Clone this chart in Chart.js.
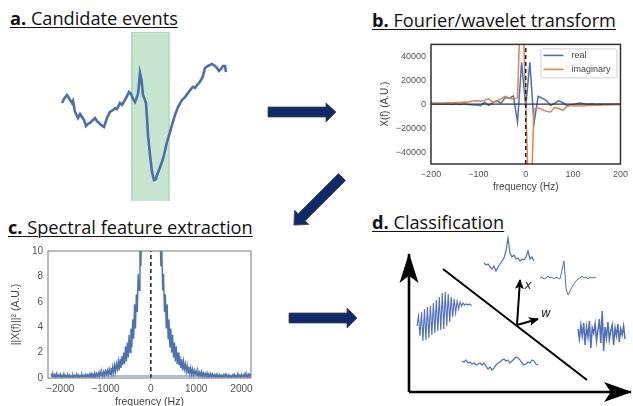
<!DOCTYPE html>
<html>
<head>
<meta charset="utf-8">
<script src="https://cdn.jsdelivr.net/npm/chart.js@4.4.0/dist/chart.umd.min.js"></script>
<style>
  body { margin: 0; width: 633px; height: 406px; overflow: hidden; background: #fff; position: relative; }
  canvas { position: absolute; }
  .title { position: absolute; font-family: 'Open Sans', sans-serif; font-size: 18.2px; line-height: 20px;
           text-decoration: underline; text-decoration-thickness: 1.3px; text-underline-offset: 2px; white-space: nowrap; color: #111; }
  .title b { font-weight: 700; }
  svg { position: absolute; left: 0; top: 0; }
</style>
</head>
<body>
<div class="title" style="left:10px;top:8px"><b>a.</b> Candidate events</div>
<div class="title" style="left:372px;top:10px"><b>b.</b> Fourier/wavelet transform</div>
<div class="title" style="left:8px;top:217px"><b>c.</b> Spectral feature extraction</div>
<div class="title" style="left:372px;top:212px"><b>d.</b> Classification</div>

<canvas id="chartA" width="180" height="169" style="left:55px;top:32px"></canvas>
<canvas id="chartB" width="257" height="172" style="left:376px;top:34px"></canvas>
<canvas id="chartC" width="262" height="176" style="left:0px;top:240px"></canvas>
<canvas id="chartD" width="238" height="171" style="left:395px;top:235px"></canvas>

<!-- block arrows between panels -->
<svg width="633" height="406">
  <g fill="#0f2a6a" stroke="#444" stroke-width="0.8">
    <polygon points="268,107 326,107 326,103 336,112 326,122 326,117 268,117"/>
    <polygon points="289,313 347,313 347,308 357,318 347,328 347,323 289,323"/>
    <polygon transform="translate(342,177) rotate(135)" points="0,-5 57,-5 57,-10 68,0 57,10 57,5 0,5"/>
  </g>
</svg>

<script>
// ---------- a. candidate event (time in ms, amplitude in A.U.) ----------
const aTime = [3.5, 4.5, 6, 7, 8.5, 9, 10, 11.5, 12.5, 13.5, 14.5, 15.5, 16.5, 17.5, 19, 20, 21, 22, 23, 24.5,
  26, 27.5, 29, 30, 31, 32.5, 33.5, 35, 36, 37, 38, 39, 40, 41, 41.5, 42.5, 43.25, 44, 45, 45.5,
  46, 46.5, 47.5, 48.5, 49.5, 50.5, 51, 52, 53.5, 54.5, 56, 57.5, 58.5, 60, 61.5, 63.5, 65, 66.5, 68, 69,
  70, 71, 72, 73, 74, 75, 76.5, 78.5, 80, 81, 82, 83, 84, 85, 85.5];
const aSignal = [58, 60.4, 62.7, 60.9, 58, 59.2, 52.7, 49.1, 51.5, 49.7, 47.9, 44.4, 45.6, 46.2, 47.9, 49.1, 47.3, 46.2, 45, 43.8,
  49.1, 52.7, 53.8, 55, 54.4, 58, 56.8, 59.8, 62.1, 64.5, 63.3, 60.4, 58.6, 61.5, 63.3, 75.7, 71.6, 62.7, 59.8, 58,
  49.1, 39.1, 27.2, 17.2, 12.4, 13, 15.4, 18.3, 23.1, 27.2, 34.9, 40.8, 45, 50.9, 55.6, 59.8, 61.5, 63.9, 66.3, 67.5,
  66.9, 68.6, 69.8, 71.6, 74, 78.7, 79.9, 81.1, 79.9, 78.7, 76.9, 78.1, 79.9, 79.9, 76.3];
const aWindow = [38.4, 57];

// ---------- b. Fourier transform ----------
const bFreq = [-200.1, -191.4, -182.7, -174, -165.3, -156.6, -147.9, -139.2, -130.5, -121.8, -113.1, -104.4,
  -95.7, -87, -78.3, -69.6, -60.9, -52.2, -43.5, -34.8, -26.1, -17.4, -8.7, 0, 8.7, 17.4, 26.1, 34.8, 43.5,
  52.2, 60.9, 69.6, 78.3, 87, 95.7, 104.4, 113.1, 121.8, 130.5, 139.2, 147.9, 156.6, 165.3, 174, 182.7, 191.4, 200.1];
const bReal = [100, -100, 200, 0, 150, -150, 100, -200, 200, -300, -500, -600,
  -1200, 1600, -1000, 1200, 3000, 800, 5600, 5000, 7000, -15000, 35000, -2000, 35000, -16000, 6500, 5000, 3000,
  -1000, 600, 3000, 1200, -1000, -400, 100, 1000, 600, 0, 300, -100, 200, 0, 150, -100, 100, 0];
const bImag = [1000, 900, 1100, 1000, 1300, 1200, 1500, 1400, 1800, 1600, 2600, 2800,
  2400, 3200, 4600, 1600, 2800, 4500, 6600, 5200, 4000, 5500, 110000, 0, -110000, -4000, -3000, -4500, -6000,
  -6500, -2600, -3800, -5000, -2000, -1000, -1600, -1000, -1400, -900, -1100, -700, -900, -500, -600, -300, -400, -200];
const bSeriesNames = ['real', 'imaginary'];
const bXTicks = [-200, -100, 0, 100, 200];
const bYTicks = [-40000, -20000, 0, 20000, 40000];

// ---------- c. power spectrum, positive half (f = 0, 20, ... 2200 Hz) ----------
const cFreqStep = 20;
const cPower = [80, 75, 70, 62, 55, 45, 35, 24, 16, 11,
  12.5, 8.8, 10.5, 6.9, 8.2, 5.2, 6.6, 3.9, 5.8, 3.1,
  4.6, 2.4, 3.9, 2.0, 3.4, 1.6, 2.8, 1.3, 2.5, 1.1,
  2.0, 1.0, 1.7, 0.8, 1.5, 0.6, 1.3, 0.7, 1.1, 0.5,
  1.0, 0.4, 0.9, 0.35, 0.8, 0.3, 0.7, 0.25, 0.6, 0.3,
  0.55, 0.2, 0.5, 0.15, 0.45, 0.2, 0.5, 0.1, 0.4, 0.15,
  0.35, 0.1, 0.4, 0.05, 0.3, 0.1, 0.35, 0.08, 0.3, 0.12,
  0.25, 0.05, 0.3, 0.1, 0.22, 0.06, 0.28, 0.1, 0.2, 0.05,
  0.25, 0.08, 0.3, 0.1, 0.2, 0.05, 0.26, 0.1, 0.18, 0.04,
  0.24, 0.1, 0.3, 0.06, 0.2, 0.08, 0.35, 0.1, 0.22, 0.05,
  0.3, 0.12, 0.25, 0.06, 0.35, 0.1, 0.28, 0.08, 0.3, 0.12, 0.35];
const cFloor = 0.15;
const cXTicks = [-2000, -1000, 0, 1000, 2000];
const cYTicks = [0, 2, 4, 6, 8, 10];

// ---------- d. classification sketch (schematic units) ----------
const dAxisX = [[14, 14], [236, 14]];
const dAxisY = [[14, 14], [14, 152]];
const dBoundary = [[48, 137], [192, 26]];
const dVecX = [[122, 81], [125, 126]];
const dVecW = [[122, 81], [143, 87]];
const dNotes = ['x', 'w'];
const dNoteAt = [[133, 120], [151, 92]];
const dWaveBurst = [0, 10, -10, 14, -15, 17, -14, 19, -12, 20, -9, 23, -7, 26, -5, 29, -4, 33, -3, 34,
  0, 32, 4, 29, 9, 27, 13, 25, 17, 24, 20, 23, 21, 22, 21, 22, 21, 21];
const dWaveFlat = [1, 0, 2, -1, 0, -2, -1, -3, -2, -1, -3, -1, -4, -7, -5, -8, -6, -3, -1, 0, 2, 3, 1, 2, -1, 1, 3, 5, 4, 2,
  -1, -3, -2, 0, -1, 2, 1, -2, -3];
const dWaveSpike = [0, -2, -1, -4, -6, -3, -8, -4, -1, 2, 5, 12, 25, 10, 6, 8, 4, 5, 2, 4, 3, 6, 12, 4, 6, 2];
const dWaveBiphasic = [0, 1, -1, 0, 2, 0, 1, -1, 1, 0, -1, 8, 17, -10, -17, -13, -9, -6, -3, -1, 0, 2, 0, 1, -1, 1, 0, 1, 0];
const dWaveNoise = [4, -6, 8, -3, 10, -12, 6, -4, 12, -15, 5, 0, 9, -8, 3, 14, -10, 22, -18, 6, -5, 11, -7, 2, 8, -12, 5,
  -3, 9, -9, 4, -2, 7, -6];

Chart.defaults.font.family = "'Liberation Sans', Arial, sans-serif";
Chart.defaults.animation = false;
Chart.defaults.plugins.legend.display = false;
Chart.defaults.plugins.tooltip.enabled = false;
Chart.defaults.elements.point.radius = 0;
Chart.defaults.elements.line.tension = 0;

const pts = (xs, ys) => xs.map((x, i) => ({ x: x, y: ys[i] }));
const pairs = arr => arr.map(p => ({ x: p[0], y: p[1] }));
const minus = v => String(v).replace('-', '\u2212');

// box around the plotting area
const framePlugin = {
  id: 'frame',
  afterDatasetsDraw(chart, args, opts) {
    if (!opts || !opts.color) return;
    const { ctx, chartArea: a } = chart;
    ctx.save();
    ctx.strokeStyle = opts.color;
    ctx.lineWidth = opts.width || 1;
    ctx.strokeRect(a.left, a.top, a.right - a.left, a.bottom - a.top);
    ctx.restore();
  }
};
Chart.register(framePlugin);

// ---------- a ----------
new Chart(document.getElementById('chartA'), {
  type: 'line',
  data: {
    datasets: [
      { data: pts(aTime, aSignal), borderColor: '#4a6fb0', borderWidth: 2.6, order: 0 },
      { data: [{ x: aWindow[0], y: 0 }, { x: aWindow[0], y: 100 }, { x: aWindow[1], y: 100 }, { x: aWindow[1], y: 0 }],
        borderColor: '#acd8b8', borderWidth: 1.5, backgroundColor: '#c8e5d0', fill: 'start', order: 1 }
    ]
  },
  options: {
    responsive: false,
    layout: { padding: 0 },
    scales: {
      x: { type: 'linear', min: 0, max: 90, display: false },
      y: { min: 0, max: 100, display: false }
    }
  }
});

// ---------- b ----------
const bLegendPlugin = {
  id: 'bLegend',
  afterDatasetsDraw(chart) {
    const { ctx, chartArea: a } = chart;
    const w = 76, h = 29, x0 = a.right - 4 - w, y0 = a.top + 4;
    ctx.save();
    ctx.fillStyle = 'rgba(255,255,255,0.85)';
    ctx.strokeStyle = '#d0d0d0';
    ctx.lineWidth = 1;
    ctx.beginPath();
    ctx.roundRect(x0 + 0.5, y0 + 0.5, w, h, 2);
    ctx.fill();
    ctx.stroke();
    bSeriesNames.forEach((name, i) => {
      const d = chart.data.datasets.find(s => s.label === name);
      const y = y0 + 7 + i * 14;
      ctx.strokeStyle = d.borderColor;
      ctx.lineWidth = 1.6;
      ctx.beginPath();
      ctx.moveTo(x0 + 3, y);
      ctx.lineTo(x0 + 23, y);
      ctx.stroke();
      ctx.fillStyle = '#444';
      ctx.font = "9px 'Liberation Sans', Arial, sans-serif";
      ctx.textBaseline = 'middle';
      ctx.fillText(name, x0 + 31, y);
    });
    ctx.restore();
  }
};

new Chart(document.getElementById('chartB'), {
  type: 'line',
  data: {
    datasets: [
      { data: [{ x: 0, y: -50000 }, { x: 0, y: 50000 }], borderColor: '#222', borderWidth: 1.5, borderDash: [4, 3], order: 0 },
      { data: [{ x: -200, y: 0 }, { x: 200, y: 0 }], borderColor: '#333', borderWidth: 1.2, order: 1 },
      { label: bSeriesNames[1], data: pts(bFreq, bImag), borderColor: '#dd8452', borderWidth: 1.5, order: 2 },
      { label: bSeriesNames[0], data: pts(bFreq, bReal), borderColor: '#4c72b0', borderWidth: 1.5, order: 3 }
    ]
  },
  options: {
    responsive: false,
    layout: { padding: { top: 5, right: 9, left: 0, bottom: 0 } },
    scales: {
      x: {
        type: 'linear', min: -200, max: 200,
        afterBuildTicks: ax => { ax.ticks = bXTicks.map(v => ({ value: v })); },
        afterFit: ax => { ax.height = 42; },
        grid: { display: false, drawTicks: false }, border: { display: false },
        ticks: { font: { size: 9 }, color: '#555', padding: 5, maxRotation: 0, callback: minus },
        title: { display: true, text: 'frequency (Hz)', font: { size: 10 }, color: '#444', padding: { top: 0, bottom: 13 } }
      },
      y: {
        min: -50000, max: 50000,
        afterBuildTicks: ax => { ax.ticks = bYTicks.map(v => ({ value: v })); },
        afterFit: ax => { ax.width = 55; },
        grid: { display: false, drawTicks: false }, border: { display: false },
        ticks: { font: { size: 9 }, color: '#555', padding: 5, callback: minus },
        title: { display: true, text: 'X(f) (A.U.)', font: { size: 10 }, color: '#444', padding: { top: 3, bottom: 0 } }
      }
    },
    plugins: { frame: { color: '#333', width: 1.5 } }
  },
  plugins: [bLegendPlugin]
});

// ---------- c ----------
const cSpectrum = [];
for (let i = cPower.length - 1; i > 0; i--) cSpectrum.push({ x: -i * cFreqStep, y: cPower[i] });
cPower.forEach((v, i) => cSpectrum.push({ x: i * cFreqStep, y: v }));
const cEdge = (cPower.length - 1) * cFreqStep;

new Chart(document.getElementById('chartC'), {
  type: 'line',
  data: {
    datasets: [
      { data: [{ x: 0, y: 0 }, { x: 0, y: 10 }], borderColor: '#222', borderWidth: 1.5, borderDash: [4, 3], order: 0 },
      { data: cSpectrum, borderColor: '#4c72b0', borderWidth: 1.4, order: 1 },
      { data: [{ x: -cEdge, y: cFloor }, { x: cEdge, y: cFloor }], borderColor: '#8fa9d6', borderWidth: 1.5, order: 2 }
    ]
  },
  options: {
    responsive: false,
    layout: { padding: { top: 5, right: 11, left: 0, bottom: 0 } },
    scales: {
      x: {
        type: 'linear', min: -2270, max: 2210,
        afterBuildTicks: ax => { ax.ticks = cXTicks.map(v => ({ value: v })); },
        afterFit: ax => { ax.height = 38; },
        grid: { display: false, drawTicks: false }, border: { display: false },
        ticks: { font: { size: 10 }, color: '#555', padding: 5, maxRotation: 0, callback: minus },
        title: { display: true, text: 'frequency (Hz)', font: { size: 10.5 }, color: '#444', padding: { top: 0, bottom: 8 } }
      },
      y: {
        min: 0, max: 10,
        afterBuildTicks: ax => { ax.ticks = cYTicks.map(v => ({ value: v })); },
        afterFit: ax => { ax.width = 48; },
        grid: { display: false, drawTicks: false }, border: { display: false },
        ticks: { font: { size: 10 }, color: '#555', padding: 5 },
        title: { display: true, text: '||X(f)||\u00b2 (A.U.)', font: { size: 10.5 }, color: '#444', padding: { top: 10, bottom: 0 } }
      }
    },
    plugins: { frame: { color: '#777', width: 1 } }
  }
});

// ---------- d ----------
const arrowTipPlugin = {
  id: 'arrowTips',
  afterDatasetsDraw(chart) {
    const ctx = chart.ctx;
    chart.data.datasets.forEach((ds, i) => {
      if (!ds.tip) return;
      const el = chart.getDatasetMeta(i).data;
      const p = el[el.length - 1], q = el[el.length - 2];
      const len = Math.hypot(p.x - q.x, p.y - q.y);
      const ux = (p.x - q.x) / len, uy = (p.y - q.y) / len;
      const L = ds.tip[0], W = ds.tip[1];
      ctx.save();
      ctx.fillStyle = ds.borderColor;
      ctx.beginPath();
      ctx.moveTo(p.x + ux, p.y + uy);
      ctx.lineTo(p.x - L * ux + W * uy, p.y - L * uy - W * ux);
      ctx.lineTo(p.x - 0.75 * L * ux, p.y - 0.75 * L * uy);
      ctx.lineTo(p.x - L * ux - W * uy, p.y - L * uy + W * ux);
      ctx.closePath();
      ctx.fill();
      ctx.restore();
    });
    const sx = chart.scales.x, sy = chart.scales.y;
    ctx.save();
    ctx.fillStyle = '#222';
    ctx.font = "italic 12px 'DejaVu Sans', sans-serif";
    ctx.textAlign = 'center';
    ctx.textBaseline = 'middle';
    dNotes.forEach((t, i) => ctx.fillText(t, sx.getPixelForValue(dNoteAt[i][0]), sy.getPixelForValue(dNoteAt[i][1])));
    ctx.restore();
  }
};

// where each waveform sits in the sketch: [values, x start, x end, baseline, line width]
const waveSlots = [
  [dWaveBurst, 22, 77, 80, 1.1],
  [dWaveFlat, 67, 143, 44, 1.2],
  [dWaveSpike, 89, 139, 143, 1.2],
  [dWaveBiphasic, 145, 201, 128, 1.0],
  [dWaveNoise, 183, 230, 73, 1.5]
];
const waveSets = waveSlots.map(([vals, x0, x1, y0, lw]) => ({
  data: vals.map((v, i) => ({ x: x0 + i * (x1 - x0) / (vals.length - 1), y: y0 + v })),
  borderColor: '#4f6fb8', borderWidth: lw
}));

new Chart(document.getElementById('chartD'), {
  type: 'line',
  data: {
    datasets: [
      { data: pairs(dAxisX), borderColor: '#000', borderWidth: 2.6, tip: [27, 10] },
      { data: pairs(dAxisY), borderColor: '#000', borderWidth: 2.6, tip: [29, 9.5] },
      { data: pairs(dBoundary), borderColor: '#000', borderWidth: 2 },
      { data: pairs(dVecX), borderColor: '#000', borderWidth: 2, tip: [9, 4.5] },
      { data: pairs(dVecW), borderColor: '#000', borderWidth: 2, tip: [9, 4.5] }
    ].concat(waveSets)
  },
  options: {
    responsive: false,
    layout: { padding: 0 },
    scales: {
      x: { type: 'linear', min: 0, max: 238, display: false },
      y: { min: 0, max: 171, display: false }
    }
  },
  plugins: [arrowTipPlugin]
});
</script>
</body>
</html>
